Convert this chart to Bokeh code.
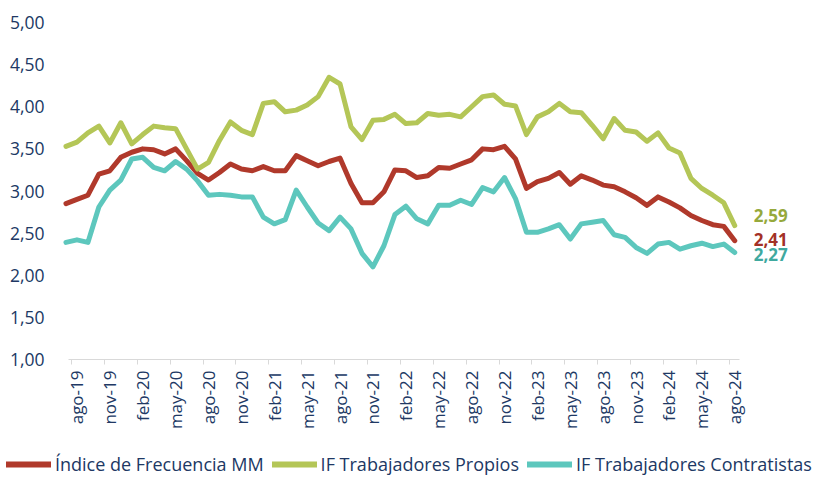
import math
from bokeh.plotting import figure
from bokeh.layouts import column
from bokeh.models import FixedTicker, CustomJSTickFormatter, Legend, LegendItem
from bokeh.core.properties import value
from bokeh.embed import file_html
from bokeh.resources import INLINE

# ---- data -------------------------------------------------------------
month_names = ["ene", "feb", "mar", "abr", "may", "jun",
               "jul", "ago", "sep", "oct", "nov", "dic"]
months = []
for yr in range(19, 25):
    for m, nm in enumerate(month_names):
        if (yr == 19 and m < 6) or (yr == 24 and m > 7):
            continue
        months.append(f"{nm}-{yr}")
# jul-19 ... ago-24 (62 months)

indice_mm = [2.85, 2.90, 2.95, 3.20, 3.24, 3.40, 3.46, 3.50, 3.49, 3.44,
             3.50, 3.36, 3.21, 3.13, 3.22, 3.32, 3.26, 3.24, 3.29, 3.24,
             3.24, 3.42, 3.36, 3.30, 3.35, 3.39, 3.09, 2.86, 2.86, 2.99,
             3.25, 3.24, 3.16, 3.18, 3.28, 3.27, 3.32, 3.37, 3.50, 3.49,
             3.53, 3.38, 3.03, 3.11, 3.15, 3.22, 3.08, 3.18, 3.13, 3.07,
             3.05, 2.99, 2.92, 2.83, 2.93, 2.87, 2.80, 2.71, 2.65, 2.60,
             2.58, 2.41]
propios = [3.53, 3.58, 3.69, 3.77, 3.57, 3.81, 3.56, 3.67, 3.77, 3.75,
           3.74, 3.50, 3.26, 3.34, 3.60, 3.82, 3.72, 3.67, 4.04, 4.06,
           3.94, 3.96, 4.02, 4.12, 4.35, 4.27, 3.76, 3.61, 3.84, 3.85,
           3.91, 3.80, 3.81, 3.92, 3.90, 3.91, 3.88, 4.00, 4.12, 4.14,
           4.03, 4.01, 3.67, 3.88, 3.94, 4.04, 3.94, 3.93, 3.78, 3.62,
           3.86, 3.72, 3.70, 3.59, 3.69, 3.51, 3.45, 3.15, 3.03, 2.95,
           2.86, 2.59]
contratistas = [2.39, 2.42, 2.39, 2.81, 3.01, 3.13, 3.38, 3.40, 3.28, 3.24,
                3.35, 3.26, 3.12, 2.95, 2.96, 2.95, 2.93, 2.93, 2.69, 2.61,
                2.66, 3.01, 2.81, 2.62, 2.53, 2.69, 2.55, 2.26, 2.10, 2.35,
                2.72, 2.82, 2.67, 2.61, 2.83, 2.83, 2.89, 2.84, 3.04, 2.99,
                3.16, 2.91, 2.51, 2.51, 2.55, 2.60, 2.43, 2.61, 2.63, 2.65,
                2.48, 2.45, 2.33, 2.26, 2.37, 2.39, 2.31, 2.35, 2.38, 2.34,
                2.37, 2.27]

series_names = ["Índice de Frecuencia MM", "IF Trabajadores Propios",
                "IF Trabajadores Contratistas"]
line_colors = ["#b0392b", "#b4c657", "#5dc7bd"]
label_colors = ["#a33126", "#96a93c", "#3fa99f"]
end_label_shift = [-1, -10, 2]   # px, screen (down positive)

y_ticks = [1.0, 1.5, 2.0, 2.5, 3.0, 3.5, 4.0, 4.5, 5.0]
label_idx = list(range(1, len(months), 3))

FONT = "Open Sans"
TXT = "#203864"
W = 815

# ---- main figure --------------------------------------------------------
x = list(range(len(months)))
n = len(months)
p = figure(width=W, height=452, output_backend="svg", toolbar_location=None,
           x_range=(-0.5, n - 0.5 + 6.5), y_range=(y_ticks[0], y_ticks[-1]),
           min_border_left=60, min_border_right=4, min_border_top=22,
           min_border_bottom=93)
p.frame_align = False
p.outline_line_color = None
p.xgrid.visible = False
p.ygrid.visible = False

series = [indice_mm, propios, contratistas]
for vals, col in zip(series, line_colors):
    p.line(x, vals, line_color=col, line_width=5, line_join="round", line_cap="round")

# end value labels
for vals, col, dy in zip(series, label_colors, end_label_shift):
    p.text(x=[x[-1]], y=[vals[-1]], text=[f"{vals[-1]:.2f}".replace(".", ",")],
           x_offset=19, y_offset=dy, text_baseline="middle", text_align="left",
           text_font=value(FONT), text_font_size="17px", text_font_style="bold",
           text_color=col)

# x axis
xa = p.xaxis[0]
xa.ticker = FixedTicker(ticks=label_idx, minor_ticks=[i - 0.5 for i in label_idx])
xa.major_label_overrides = {i: months[i] for i in label_idx}
xa.major_label_orientation = math.pi / 2
xa.bounds = (0.2, n - 0.6)
xa.major_tick_out = 0
xa.major_tick_in = 0
xa.minor_tick_out = 5
xa.minor_tick_in = 0
xa.minor_tick_line_color = "#d9d9d9"
xa.axis_line_color = "#d9d9d9"
xa.major_label_standoff = 6
xa.major_label_text_font = FONT
xa.major_label_text_font_size = "17px"
xa.major_label_text_color = TXT

# y axis
ya = p.yaxis[0]
ya.ticker = FixedTicker(ticks=y_ticks)
ya.formatter = CustomJSTickFormatter(code="return tick.toFixed(2).replace('.', ',');")
ya.axis_line_color = None
ya.major_tick_line_color = None
ya.minor_tick_line_color = None
ya.major_label_standoff = 10
ya.major_label_text_font = FONT
ya.major_label_text_font_size = "17.5px"
ya.major_label_text_color = TXT

# ---- legend strip -------------------------------------------------------
# the same series are drawn off-range here so only their legend swatches show
pl = figure(width=W, height=24, output_backend="svg", toolbar_location=None,
            x_axis_location=None, y_axis_location=None,
            x_range=(1000, 1001), y_range=(0, 1),
            min_border_left=0, min_border_right=0, min_border_top=0,
            min_border_bottom=0)
pl.frame_align = False
pl.outline_line_color = None
pl.xgrid.visible = False
pl.ygrid.visible = False
leg_r = [pl.line(x, vals, line_color=c, line_width=6, line_cap="round")
         for vals, c in zip(series, line_colors)]
legend = Legend(items=[LegendItem(label=nm, renderers=[r]) for nm, r in zip(series_names, leg_r)],
                orientation="horizontal", location="left",
                padding=0, margin=6, spacing=8, glyph_width=45, glyph_height=18,
                label_standoff=4, border_line_color=None, background_fill_alpha=0,
                label_text_font=FONT, label_text_font_size="18px",
                label_text_color=TXT)
pl.add_layout(legend, "center")

layout = column(p, pl, spacing=0)
open("out.html", "w").write(file_html(layout, INLINE))
